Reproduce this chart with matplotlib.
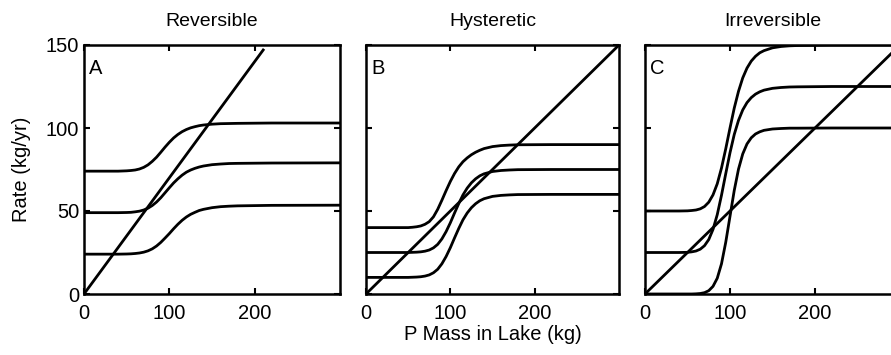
"""Lake P recycling vs. loss: reversible, hysteretic, irreversible."""

import matplotlib
matplotlib.use("Agg")
import matplotlib.pyplot as plt

plt.rcParams["font.family"] = ["Liberation Sans", "DejaVu Sans"]

# P mass in lake (kg), shared by all recycling curves
P_MASS = [0, 30, 40, 50, 55, 60, 65, 70, 75, 80, 85, 90, 95, 100, 105,
          110, 115, 120, 125, 130, 135, 140, 150, 160, 170, 180, 220, 300]

# Panel A: reversible (loading + recycling, kg/yr)
REV_HIGH = [74.0, 74.0, 74.0, 74.2, 74.4, 74.7, 75.3, 76.3, 77.8, 79.9, 82.4,
            85.4, 88.5, 91.4, 94.0, 96.1, 97.8, 99.1, 100.1, 100.8, 101.4,
            101.8, 102.3, 102.6, 102.7, 102.8, 103.0, 103.0]
REV_MID = [49.0, 49.0, 49.0, 49.1, 49.2, 49.5, 49.9, 50.6, 51.7, 53.3, 55.4,
           58.0, 61.0, 64.0, 66.9, 69.4, 71.6, 73.4, 74.7, 75.7, 76.5, 77.1,
           77.9, 78.3, 78.6, 78.7, 78.9, 79.0]
REV_LOW = [24.0, 24.0, 24.0, 24.1, 24.2, 24.4, 24.7, 25.2, 26.0, 27.2, 28.9,
           31.1, 33.7, 36.4, 39.3, 42.0, 44.4, 46.4, 48.0, 49.2, 50.3, 51.0,
           52.0, 52.6, 52.9, 53.1, 53.4, 53.5]
REV_LOSS_P = [0, 210]
REV_LOSS_RATE = [0, 147]

# Panel B: hysteretic
HYS_HIGH = [40.0, 40.0, 40.0, 40.0, 40.2, 40.5, 41.0, 42.0, 43.6, 46.5, 51.0,
            56.5, 62.3, 67.8, 72.6, 76.6, 79.7, 82.0, 83.9, 85.4, 86.6, 87.6,
            88.8, 89.4, 89.7, 89.9, 90.0, 90.0]
HYS_MID = [25.0, 25.0, 25.0, 25.0, 25.1, 25.2, 25.4, 25.8, 26.5, 27.8, 29.9,
           33.2, 37.6, 42.9, 48.8, 54.5, 59.7, 63.8, 67.0, 69.4, 71.2, 72.4,
           73.8, 74.4, 74.7, 74.9, 75.0, 75.0]
HYS_LOW = [10.0, 10.0, 10.0, 10.0, 10.1, 10.2, 10.4, 10.8, 11.5, 12.8, 14.9,
           18.2, 22.6, 27.9, 33.8, 39.5, 44.7, 48.8, 52.0, 54.4, 56.2, 57.4,
           58.8, 59.4, 59.7, 59.9, 60.0, 60.0]
HYS_LOSS_P = [0, 300]
HYS_LOSS_RATE = [0, 150]

# Panel C: irreversible
IRR_HIGH = [50.0, 50.0, 50.0, 50.1, 50.3, 50.6, 51.3, 52.7, 55.3, 59.7, 66.4,
            75.9, 87.5, 100.0, 112.0, 122.1, 130.2, 136.1, 140.3, 143.2,
            145.3, 146.6, 148.3, 149.1, 149.5, 149.7, 150.0, 150.0]
IRR_MID = [25.0, 25.0, 25.0, 25.1, 25.4, 25.9, 27.0, 29.1, 32.8, 38.9, 47.8,
           59.5, 72.5, 85.1, 96.1, 104.6, 110.9, 115.3, 118.3, 120.4, 121.8,
           122.8, 123.9, 124.4, 124.7, 124.8, 125.0, 125.0]
IRR_LOW = [0.0, 0.0, 0.0, 0.0, 0.0, 0.1, 0.3, 0.8, 2.0, 4.6, 9.5, 18.2, 31.2,
           46.8, 62.4, 75.2, 84.4, 90.4, 94.1, 96.4, 97.7, 98.6, 99.4, 99.7,
           99.9, 99.9, 100.0, 100.0]
IRR_LOSS_P = [0, 300]
IRR_LOSS_RATE = [0, 150]

TITLES = ["Reversible", "Hysteretic", "Irreversible"]
LETTERS = ["A", "B", "C"]
X_TICKS = [0, 100, 200]
Y_TICKS = [0, 50, 100, 150]

W, H = 891, 355
# axes edges in pixels (left, right); panel C runs past the figure edge
AX_X = [(84, 340), (366, 619), (645, 900)]
AX_TOP, AX_BOTTOM = 45, 294


def _panel(ax, curves, loss_p, loss_rate, title, letter, first):
    for rate in curves:
        ax.plot(P_MASS, rate, color="black", linewidth=2.0)
    ax.plot(loss_p, loss_rate, color="black", linewidth=2.0)

    ax.set_xlim(0, 300)
    ax.set_ylim(0, 150)
    ax.set_xticks(X_TICKS)
    ax.set_yticks(Y_TICKS)
    ax.tick_params(direction="in", length=4, width=1.5, top=True, right=True,
                   labelsize=14.5, labelleft=first)
    ax.tick_params(axis="x", pad=7)
    ax.tick_params(axis="y", pad=3.5)
    for sp in ax.spines.values():
        sp.set_linewidth(1.8)
    ax.set_title(title, fontsize=14, pad=13.5)
    ax.text(0.02, 0.945, letter, transform=ax.transAxes, ha="left", va="top",
            fontsize=14.5)


def main():
    fig = plt.figure(figsize=(W / 100, H / 100), dpi=100)

    panels = [
        ([REV_HIGH, REV_MID, REV_LOW], REV_LOSS_P, REV_LOSS_RATE),
        ([HYS_HIGH, HYS_MID, HYS_LOW], HYS_LOSS_P, HYS_LOSS_RATE),
        ([IRR_HIGH, IRR_MID, IRR_LOW], IRR_LOSS_P, IRR_LOSS_RATE),
    ]
    for i, ((x0, x1), (curves, lp, lr)) in enumerate(zip(AX_X, panels)):
        ax = fig.add_axes([x0 / W, 1 - AX_BOTTOM / H, (x1 - x0) / W,
                           (AX_BOTTOM - AX_TOP) / H])
        _panel(ax, curves, lp, lr, TITLES[i], LETTERS[i], i == 0)

    fig.text(493 / W, 1 - 334 / H, "P Mass in Lake (kg)", ha="center",
             va="center", fontsize=14.5)
    fig.text(22 / W, 1 - 169 / H, "Rate (kg/yr)", ha="center", va="center",
             rotation=90, fontsize=14.5)

    fig.savefig("out.png", dpi=100)
    plt.close(fig)


if __name__ == "__main__":
    main()
